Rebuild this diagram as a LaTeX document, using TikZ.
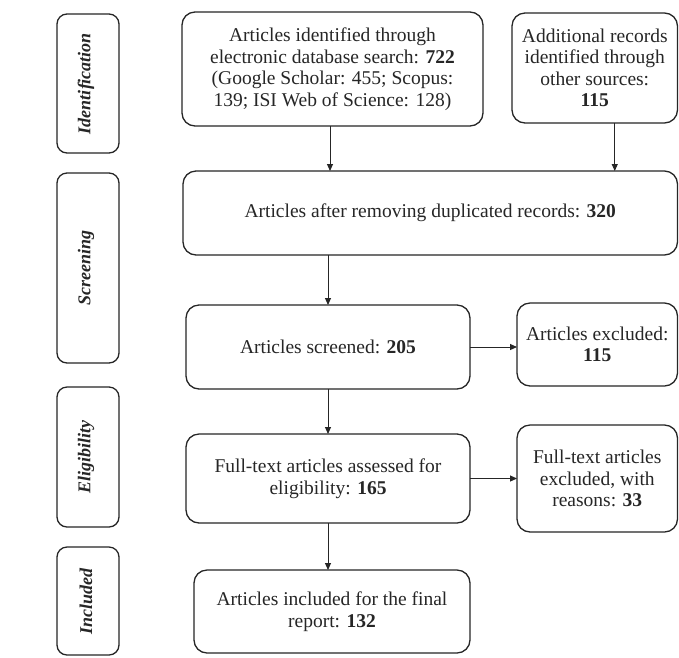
\documentclass[tikz,border=0pt]{standalone}
\usepackage{fontspec}
\setmainfont{Liberation Serif}
\usetikzlibrary{arrows.meta}
\begin{document}
\begin{tikzpicture}[x=1pt,y=-1pt,
  every node/.style={inner sep=0pt, outer sep=0pt},
  box/.style={draw=black!85, line width=1.3pt, rounded corners=13pt, align=center,
    text=black!85, font=\fontsize{19.5}{21.5}\selectfont},
  phase/.style={draw=black!85, line width=1.3pt, rounded corners=10pt,
    minimum width=62pt},
  phasetext/.style={rotate=90, text=black!85,
    font=\fontsize{18}{20}\selectfont\bfseries\itshape},
  arr/.style={draw=black!85, line width=1pt, -{Triangle[length=7pt,width=6pt]}}]
\useasboundingbox (0,0) rectangle (679,657);
\fill[white] (0,0) rectangle (679,657);

% phase label boxes
\node[phase, minimum height=139pt] (p1) at (88,83.5) {};
\node[phasetext] (t1) at (86,83.5) {Identification};
\node[phase, minimum height=190pt] (p2) at (88,268) {};
\node[phasetext] (t2) at (86,268) {Screening};
\node[phase, minimum height=140pt] (p3) at (88,457) {};
\node[phasetext] (t3) at (86,457) {Eligibility};
\node[phase, minimum height=108pt] (p4) at (88,601) {};
\node[phasetext] (t4) at (86,601) {Included};

% main boxes
\node[box, minimum width=301pt, minimum height=114pt] (a) at (332.5,69)
  {Articles identified through\\electronic database search: \textbf{722}\\(Google Scholar: 455; Scopus:\\139; ISI Web of Science: 128)};
\node[box, minimum width=165.5pt, minimum height=110pt] (b) at (594.75,68)
  {Additional records\\identified through\\other sources:\\\textbf{115}};
\node[box, minimum width=494.5pt, minimum height=84pt] (c) at (430.25,213)
  {Articles after removing duplicated records: \textbf{320}};
\node[box, minimum width=284pt, minimum height=84pt] (d) at (328,347)
  {Articles screened: \textbf{205}};
\node[box, minimum width=160.5pt, minimum height=83pt] (e) at (597.25,344.5)
  {Articles excluded:\\\textbf{115}};
\node[box, minimum width=284pt, minimum height=89pt] (f) at (328,478.5)
  {Full-text articles assessed for\\eligibility: \textbf{165}};
\node[box, minimum width=160.5pt, minimum height=107pt] (g) at (597.25,478.5)
  {Full-text articles\\excluded, with\\reasons: \textbf{33}};
\node[box, minimum width=276pt, minimum height=83pt] (h) at (332,611.5)
  {Articles included for the final\\report: \textbf{132}};

% connectors
\draw[arr] ([xshift=-2.5pt]a.south) -- ([xshift=-2.5pt]a.south |- c.north);
\draw[arr] ([xshift=20pt]b.south) -- ([xshift=20pt]b.south |- c.north);
\draw[arr] (d.north |- c.south) -- (d.north);
\draw[arr] (d.east) -- (d.east -| e.west);
\draw[arr] (d.south) -- (f.north);
\draw[arr] (f.east) -- (f.east -| g.west);
\draw[arr] (f.south) -- (f.south |- h.north);
\end{tikzpicture}
\end{document}
